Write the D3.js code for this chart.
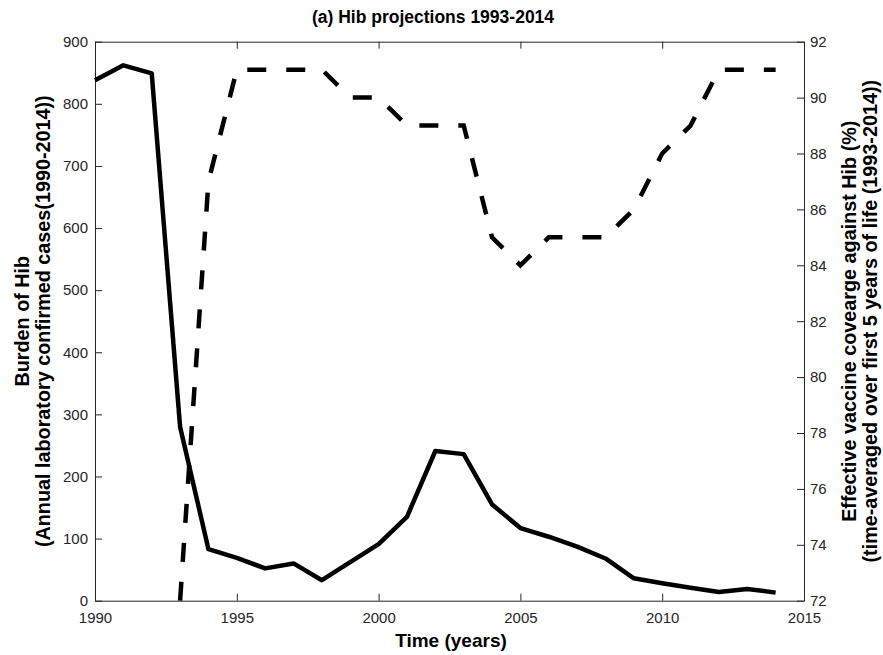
<!DOCTYPE html>
<html>
<head>
<meta charset="utf-8">
<script src="https://cdn.jsdelivr.net/npm/d3@7"></script>
<style>
  html, body { margin: 0; padding: 0; background: #fff; }
  svg text { font-family: "Liberation Sans", Arial, Helvetica, sans-serif; }
</style>
</head>
<body>
<svg id="chart" width="883" height="655"></svg>
<script>
// Hib burden (annual confirmed cases) and effective vaccine coverage
const years = d3.range(1990, 2015);
const burden = [838, 862, 849, 280, 83, 69, 52, 60, 33, 62, 91, 135, 241, 236, 155,
                117, 103, 87, 68, 36, 28, 21, 14, 19, 13];
const coverageYears = d3.range(1993, 2015);
const coverage = [72, 87, 91, 91, 91, 91, 90, 90, 89, 89, 89, 85, 84, 85, 85, 85,
                  86, 88, 89, 91, 91, 91];
const xTicks = [1990, 1995, 2000, 2005, 2010, 2015];
const leftTicks = d3.range(0, 901, 100);
const rightTicks = d3.range(72, 93, 2);

const svg = d3.select("#chart");
const m = { left: 95, right: 804, top: 41.7, bottom: 600.7 };
const axisColor = "#262626";

const x = d3.scaleLinear().domain([1990, 2015]).range([m.left, m.right]);
const yL = d3.scaleLinear().domain([0, 900]).range([m.bottom, m.top]);
const yR = d3.scaleLinear().domain([72, 92]).range([m.bottom, m.top]);

const tickLen = 7;

function styleAxis(g) {
  g.selectAll("path.domain").attr("stroke", axisColor).attr("stroke-width", 1);
  g.selectAll(".tick line").attr("stroke", axisColor).attr("stroke-width", 1);
  g.selectAll(".tick text").attr("fill", axisColor).style("font-size", "15px");
}

// bottom axis
svg.append("g").attr("transform", `translate(0,${m.bottom})`)
  .call(d3.axisBottom(x).tickValues(xTicks).tickFormat(d3.format("d"))
        .tickSizeInner(-tickLen).tickSizeOuter(0).tickPadding(12))
  .call(styleAxis);

// top axis (box, mirrored ticks)
svg.append("g").attr("transform", `translate(0,${m.top})`)
  .call(d3.axisTop(x).tickValues(xTicks).tickFormat("")
        .tickSizeInner(-tickLen).tickSizeOuter(0))
  .call(styleAxis);

// left axis
svg.append("g").attr("transform", `translate(${m.left},0)`)
  .call(d3.axisLeft(yL).tickValues(leftTicks)
        .tickSizeInner(-tickLen).tickSizeOuter(0).tickPadding(7))
  .call(styleAxis);

// right axis
svg.append("g").attr("transform", `translate(${m.right},0)`)
  .call(d3.axisRight(yR).tickValues(rightTicks)
        .tickSizeInner(-tickLen).tickSizeOuter(0).tickPadding(6))
  .call(styleAxis);

// burden line (solid)
svg.append("path")
  .datum(years.map((yr, i) => [yr, burden[i]]))
  .attr("fill", "none").attr("stroke", "#000").attr("stroke-width", 4.5)
  .attr("stroke-linejoin", "round")
  .attr("d", d3.line().x(d => x(d[0])).y(d => yL(d[1])));

// coverage line (dashed)
svg.append("path")
  .datum(coverageYears.map((yr, i) => [yr, coverage[i]]))
  .attr("fill", "none").attr("stroke", "#000").attr("stroke-width", 4.5)
  .attr("stroke-dasharray", "19,20")
  .attr("d", d3.line().x(d => x(d[0])).y(d => yR(d[1])));

// title
svg.append("text")
  .attr("x", 433).attr("y", 23)
  .attr("text-anchor", "middle").attr("font-weight", "bold")
  .style("font-size", "17.5px").attr("fill", "#000")
  .text("(a) Hib projections 1993-2014");

// x label
svg.append("text")
  .attr("x", 451).attr("y", 647)
  .attr("text-anchor", "middle").attr("font-weight", "bold")
  .style("font-size", "19px").attr("fill", "#000")
  .text("Time (years)");

const cy = (m.top + m.bottom) / 2;

// left label (two lines)
const leftLabel = svg.append("text")
  .attr("transform", `translate(29,${cy}) rotate(-90)`)
  .attr("text-anchor", "middle").attr("font-weight", "bold")
  .style("font-size", "19.8px").attr("fill", "#000");
leftLabel.append("tspan").attr("x", 0).attr("dy", 0).text("Burden of Hib");
leftLabel.append("tspan").attr("x", 0).attr("dy", 21)
  .text("(Annual laboratory confirmed cases(1990-2014))");

// right label (two lines)
const rightLabel = svg.append("text")
  .attr("transform", `translate(856,${cy}) rotate(-90)`)
  .attr("text-anchor", "middle").attr("font-weight", "bold")
  .style("font-size", "19.8px").attr("fill", "#000");
rightLabel.append("tspan").attr("x", 0).attr("dy", 0)
  .text("Effective vaccine covearge against Hib (%)");
rightLabel.append("tspan").attr("x", 0).attr("dy", 21)
  .text("(time-averaged over first 5 years of life (1993-2014))");
</script>
</body>
</html>
